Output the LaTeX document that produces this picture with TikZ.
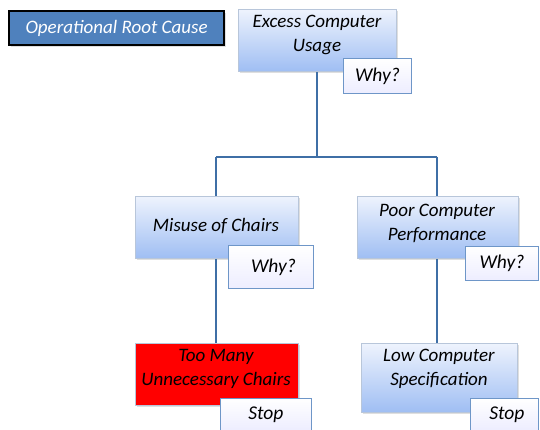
\documentclass[tikz,border=0pt]{standalone}
\usepackage{fontspec}
\setmainfont{Carlito}
\usetikzlibrary{shadows}
\definecolor{linec}{HTML}{3F6FA6}
\definecolor{boxtop}{HTML}{EEF3FD}
\definecolor{boxbot}{HTML}{9FBEF3}
\definecolor{boxedge}{HTML}{B8C6DA}
\definecolor{rootfill}{HTML}{4F81BD}
\definecolor{whyedge}{HTML}{6E96C8}
\tikzset{
  x=1pt, y=-1pt,
  cause/.style={draw=boxedge, line width=0.8pt, top color=boxtop, bottom color=boxbot,
    anchor=north west, inner sep=0pt, drop shadow={opacity=0.25, shadow xshift=1.5pt, shadow yshift=-1.5pt}},
  redcause/.style={draw=boxedge, line width=0.8pt, fill=red, anchor=north west, inner sep=0pt,
    drop shadow={opacity=0.25, shadow xshift=1.5pt, shadow yshift=-1.5pt}},
  whybox/.style={draw=whyedge, line width=0.8pt, top color=white, bottom color=white!93!blue,
    anchor=north west, inner sep=0pt, font=\itshape\fontsize{19.5}{22}\selectfont},
  txt/.style={align=center, font=\itshape\fontsize{19}{24}\selectfont, inner sep=0pt},
  conn/.style={draw=linec, line width=2pt},
}
\begin{document}
\begin{tikzpicture}
\useasboundingbox (0,0) rectangle (540,430);
\fill[white] (0,0) rectangle (540,430);

% root cause label
\node[draw=black, line width=2.2pt, fill=rootfill, anchor=north west, minimum width=215pt, minimum height=34pt,
  inner sep=0pt, text=white, font=\itshape\fontsize{19}{22}\selectfont,
  drop shadow={opacity=0.25, shadow xshift=1.5pt, shadow yshift=-1.5pt}] (root) at (8,10) {Operational Root Cause};

% boxes
\node[cause, minimum width=158pt, minimum height=62pt] (excess) at (238,9) {};
\node[cause, minimum width=163pt, minimum height=62pt] (misuse) at (135,196) {};
\node[cause, minimum width=161pt, minimum height=62pt] (poor) at (357,196) {};
\node[redcause, minimum width=163pt, minimum height=62pt] (toomany) at (135,343) {};
\node[cause, minimum width=156pt, minimum height=69pt] (low) at (361,343) {};

% connectors
\coordinate (split) at (317,157);
\coordinate (jl) at (216,157);
\coordinate (jr) at (437,157);
\draw[conn] (excess.south -| split) -- (split);
\draw[conn] (jl) -- (jr);
\draw[conn] (jl) -- (jl |- misuse.north);
\draw[conn] (jr) -- (jr |- poor.north);
\draw[conn] (misuse.south -| jl) -- (toomany.north -| jl);
\draw[conn] (poor.south -| jr) -- (low.north -| jr);

% texts
\node[txt] (t1) at (317,35) {Excess Computer\\Usage};
\node[txt] (t2) at (216,226) {Misuse of Chairs};
\node[txt] (t3) at (437,223) {Poor Computer\\Performance};
\node[txt] (t4) at (216,369) {Too Many\\Unnecessary Chairs};
\node[txt] (t5) at (439,369) {Low Computer\\Specification};

% why / stop boxes
\node[whybox, minimum width=68pt, minimum height=35pt] (w1) at (343,58) {Why?};
\node[whybox, minimum width=85pt, minimum height=43pt] (w2) at (228,245) {\hspace*{5pt}Why?};
\node[whybox, minimum width=73pt, minimum height=34pt] (w3) at (465,246) {Why?};
\node[whybox, minimum width=91pt, minimum height=32pt] (s1) at (220,398) {Stop};
\node[whybox, minimum width=68pt, minimum height=32pt] (s2) at (470,398) {\hspace*{5pt}Stop};
\end{tikzpicture}
\end{document}
